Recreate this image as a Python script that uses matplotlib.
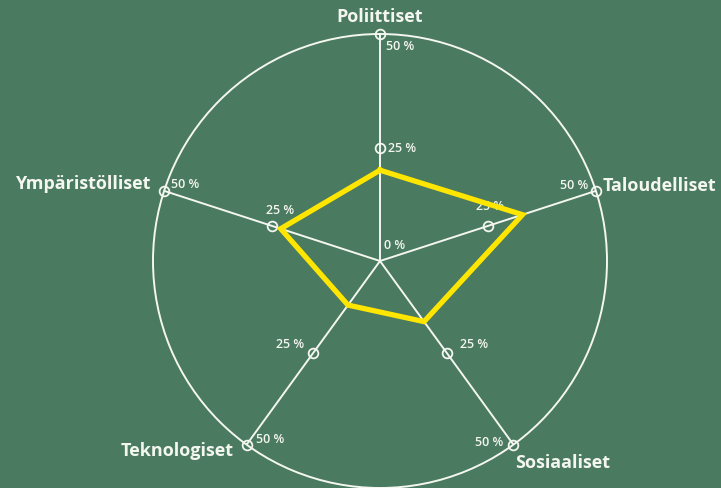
import numpy as np
import matplotlib.pyplot as plt

categories = ['Poliittiset', 'Taloudelliset', 'Sosiaaliset', 'Teknologiset', 'Ympäristölliset']
values = [20, 33, 16.5, 12, 23]
ring_values = [25, 50]
ring_labels = ['25 %', '50 %']

bg = '#4a7a5f'
yellow = '#ffe600'
white = '#f4f6f0'

plt.rcParams['font.family'] = ['Open Sans', 'DejaVu Sans']

fig = plt.figure(figsize=(7.21, 4.89), dpi=100, facecolor=bg)
ax = fig.add_axes([(380 - 227) / 721, 0, 454 / 721, 454 / 489], projection='polar')
ax.set_facecolor(bg)
ax.set_theta_offset(np.pi / 2)
ax.set_theta_direction(-1)
ax.set_ylim(0, 50)
ax.grid(False)
ax.set_xticks([])
ax.set_yticks([])
ax.spines['polar'].set_color(white)
ax.spines['polar'].set_linewidth(1.4)

angles = np.linspace(0, 2 * np.pi, len(categories), endpoint=False)

# spokes and ring markers
for a in angles:
    ax.plot([a, a], [0, 50], color=white, lw=1.4, zorder=2)
    ax.plot([a] * len(ring_values), ring_values, 'o', ms=7, mfc='none', mec=white, mew=1.3,
            zorder=3, clip_on=False)

# percentage labels: (offset for 25 %, offset for 50 %, alignment)
pct_style = [
    [((8, 0), 'left', 'center'), ((6, -11), 'left', 'center')],
    [((2, 20), 'center', 'center'), ((-8, 6), 'right', 'center')],
    [((13, 9), 'left', 'center'), ((-10, 3), 'right', 'center')],
    [((-9, 9), 'right', 'center'), ((9, 6), 'left', 'center')],
    [((8, 16), 'center', 'center'), ((7, 7), 'left', 'center')],
]
for a, styles in zip(angles, pct_style):
    for r, lab, (off, ha, va) in zip(ring_values, ring_labels, styles):
        ax.annotate(lab, xy=(a, r), xytext=off, textcoords='offset pixels',
                    ha=ha, va=va, color=white, fontsize=9, fontweight='semibold',
                    annotation_clip=False, zorder=4)

ax.annotate('0 %', xy=(0, 0), xytext=(4, 16), textcoords='offset pixels',
            ha='left', va='center', color=white, fontsize=9, fontweight='semibold', zorder=4)

# category labels
cat_style = [((0, 18), 'center'), ((7, 6), 'left'), ((2, -17), 'left'),
             ((-13, -5), 'right'), ((-14, 8), 'right')]
for a, cat, (off, ha) in zip(angles, categories, cat_style):
    ax.annotate(cat, xy=(a, 50), xytext=off, textcoords='offset pixels',
                ha=ha, va='center', color=white, fontsize=13, fontweight='bold',
                annotation_clip=False, zorder=4)

# data polygon
theta = np.append(angles, angles[0])
r = np.append(values, values[0])
ax.plot(theta, r, color=yellow, lw=3.8, solid_joinstyle='miter', zorder=5)

fig.savefig('out.png', dpi=100, facecolor=bg)
